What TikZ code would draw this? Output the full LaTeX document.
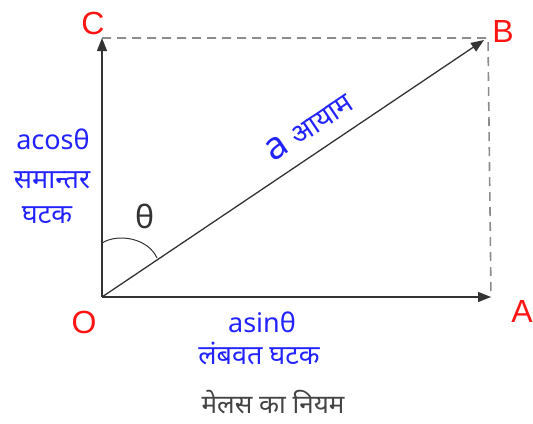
\documentclass[tikz,border=0pt]{standalone}
\usepackage{fontspec}
\setmainfont{Noto Sans}
\newfontfamily\deva[Script=Devanagari]{Noto Sans}
\newfontfamily\arialf{Liberation Sans}
\usetikzlibrary{arrows.meta}
\definecolor{vblue}{RGB}{35,35,255}
\definecolor{vred}{RGB}{255,20,20}
\definecolor{lgray}{RGB}{51,51,51}
\definecolor{dgray}{RGB}{140,140,140}
\definecolor{capgray}{RGB}{68,68,68}
\tikzset{
  vec/.style={draw=lgray, line width=1.3bp, -{Triangle[length=13bp,width=10bp]}},
  dash line/.style={draw=dgray, line width=1.6bp, dash pattern=on 9bp off 6bp},
  ptlab/.style={text=vred, font=\arialf\fontsize{32bp}{32bp}\selectfont, inner sep=0pt},
  bluelab/.style={text=vblue, font=\deva\fontsize{27bp}{30bp}\selectfont, inner sep=0pt},
  caplab/.style={text=capgray, font=\deva\fontsize{26bp}{28bp}\selectfont, inner sep=0pt},
}
\begin{document}
\begin{tikzpicture}[x=1bp,y=-1bp]
\useasboundingbox (0,0) rectangle (533,423);
\coordinate (O) at (102,297);
\coordinate (A) at (491,297);
\coordinate (B) at (484,40);
\coordinate (C) at (102,38);
\coordinate (K) at (488,38);
\coordinate (arcS) at (102,243);
\coordinate (arcE) at (157,258);
% dashed completion
\draw[dash line] (C) -- (K) -- (A);
% vectors
\draw[vec] (O) -- (A);
\draw[vec] (O) -- (C);
\draw[vec] (O) -- (B);
% angle arc
\draw[lgray, line width=1bp] (arcS) .. controls (118,233) and (148,238) .. (arcE);
% point labels
\node[ptlab] (lO) at (84,322) {O};
\node[ptlab] (lA) at (522,311) {A};
\node[ptlab] (lB) at (503,31) {B};
\node[ptlab] (lC) at (93,23) {C};
% theta
\node[text=lgray, font=\fontsize{32bp}{32bp}\selectfont, inner sep=0pt] (th) at (145,216) {θ};
% left labels
\node[bluelab] (acos) at (53,139) {acosθ};
\node[bluelab] (saman) at (52,180) {समान्तर};
\node[bluelab] (ghatak1) at (47,215) {घटक};
% bottom labels
\node[bluelab] (asin) at (262,322) {asinθ};
\node[bluelab] (lamb) at (259,353) {लंबवत घटक};
% rotated label
\node[text=vblue, rotate=34, inner sep=0pt] (amag) at (309,127) {\fontsize{38bp}{38bp}\selectfont a\hspace{8bp}\deva\fontsize{28bp}{28bp}\selectfont आयाम};
% caption
\node[caplab] (cap) at (273,402) {मेलस का नियम};
\end{tikzpicture}
\end{document}
